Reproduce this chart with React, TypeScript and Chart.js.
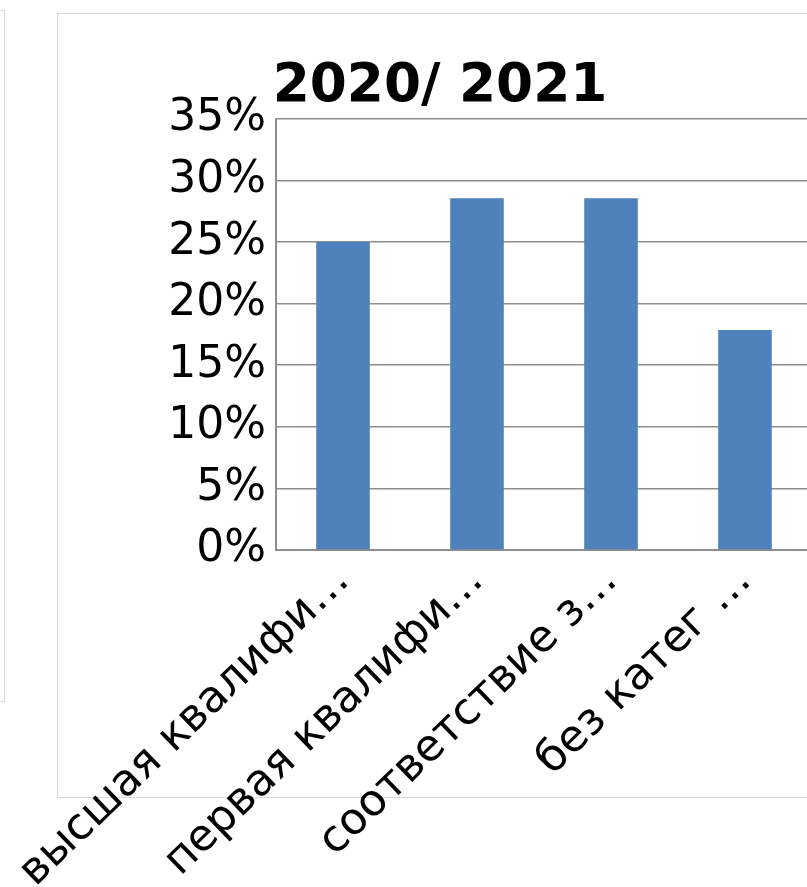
import React, { useEffect, useRef } from "react";
import { Chart, registerables } from "chart.js";

Chart.register(...registerables);

const chartTitle = "2020/ 2021";
const categories = [
  "высшая квалифи…",
  "первая квалифи…",
  "соответствие з…",
  "без катег …",
];
const shares = [0.25, 0.2857, 0.2857, 0.1786];
const yMin = 0;
const yMax = 0.35;
const yStep = 0.05;

const FONT = "'DejaVu Sans', 'Liberation Sans', sans-serif";
const GRID = "#8e8e8e";
const BAR = "#4F81BD";

export default function App() {
  const ref = useRef<HTMLCanvasElement | null>(null);

  useEffect(() => {
    if (!ref.current) return;
    const chart = new Chart(ref.current, {
      type: "bar",
      data: {
        labels: categories,
        datasets: [
          {
            data: shares,
            backgroundColor: BAR,
            borderWidth: 0,
            barPercentage: 0.4,
            categoryPercentage: 1,
          },
        ],
      },
      options: {
        responsive: false,
        animation: false,
        layout: { padding: { left: 68, right: 68, top: 55, bottom: 0 } },
        plugins: {
          legend: { display: false },
          tooltip: { enabled: false },
          title: {
            display: true,
            text: chartTitle,
            color: "#000",
            font: { family: FONT, size: 53.3, weight: "bold", lineHeight: 1.2 },
            padding: { top: 0, bottom: 0 },
          },
        },
        scales: {
          x: {
            grid: { display: false },
            border: { display: true, color: GRID, width: 2 },
            ticks: {
              color: "#000",
              font: { family: FONT, size: 44 },
              minRotation: 44,
              maxRotation: 44,
              autoSkip: false,
              padding: -3,
            },
            afterFit: (s: any) => {
              s.height = 337;
              s.paddingLeft = 0;
              s.paddingRight = 0;
            },
          },
          y: {
            min: yMin,
            max: yMax,
            grid: { color: GRID, lineWidth: 1.6, drawTicks: false },
            border: { display: true, color: GRID, width: 2 },
            ticks: {
              stepSize: yStep,
              color: "#000",
              padding: 10,
              font: { family: FONT, size: 44 },
              callback: (v: any) => Math.round(Number(v) * 100) + "%",
            },
            afterFit: (s: any) => {
              s.width = 208;
            },
          },
        },
      },
    });
    return () => chart.destroy();
  }, []);

  return (
    <div
      style={{
        position: "absolute",
        left: 0,
        top: 0,
        width: 807,
        height: 887,
        overflow: "hidden",
        background: "#fff",
      }}
    >
      <div
        style={{
          position: "absolute",
          left: -20,
          top: 10,
          width: 25,
          height: 692,
          boxSizing: "border-box",
          border: "1px solid #d9d9d9",
        }}
      />
      <div
        style={{
          position: "absolute",
          left: 57,
          top: 13,
          width: 800,
          height: 785,
          boxSizing: "border-box",
          border: "1px solid #d9d9d9",
        }}
      />
      <canvas
        ref={ref}
        width={880}
        height={887}
        style={{ position: "absolute", left: 0, top: 0, width: 880, height: 887 }}
      />
    </div>
  );
}
